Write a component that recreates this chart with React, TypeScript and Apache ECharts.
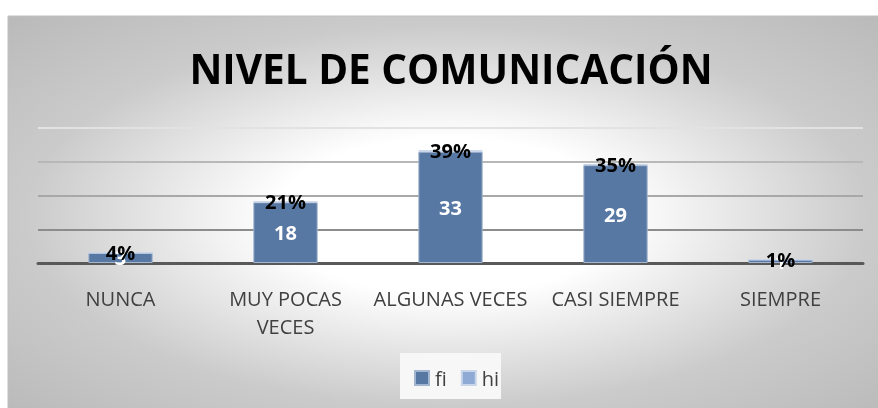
import React, { useEffect, useRef } from "react";
import * as echarts from "echarts";

const TITLE = "NIVEL DE COMUNICACIÓN";
const categories = ["NUNCA", "MUY POCAS VECES", "ALGUNAS VECES", "CASI SIEMPRE", "SIEMPRE"];
const fiValues = [3, 18, 33, 29, 1];
const hiValues = [0.04, 0.21, 0.39, 0.35, 0.01];
const seriesNames = ["fi", "hi"];

const FONT = "'Open Sans', 'DejaVu Sans', sans-serif";

export default function App() {
  const ref = useRef<HTMLDivElement>(null);
  useEffect(() => {
    if (!ref.current) return;
    const chart = echarts.init(ref.current, undefined, { renderer: "svg" });
    chart.setOption({
      animation: false,
      graphic: [
        {
          type: "rect",
          z: -10,
          silent: true,
          shape: { x: 8, y: 16, width: 880, height: 400 },
          style: {
            fill: new echarts.graphic.RadialGradient(0.5, 0.5, 0.7, [
              { offset: 0, color: "#ffffff" },
              { offset: 0.28, color: "#ffffff" },
              { offset: 0.68, color: "#cbcbcb" },
              { offset: 1, color: "#bababa" },
            ]),
            stroke: "#bfbfbf",
            lineWidth: 1,
          },
        },
        {
          type: "rect",
          z: -5,
          silent: true,
          shape: { x: 400, y: 353, width: 101, height: 46 },
          style: { fill: "#f7f7f7" },
        },
        {
          type: "text",
          x: 451,
          y: 68,
          style: {
            text: TITLE,
            fontFamily: FONT,
            fontSize: 40.5,
            fontWeight: "bold",
            fill: "#000000",
            textAlign: "center",
            textVerticalAlign: "middle",
          },
        },
      ],
      grid: { left: 38, right: 15, top: 128, bottom: 145, containLabel: false },
      legend: {
        left: 400,
        top: 353,
        padding: [15, 6, 15, 14],
        itemWidth: 14,
        itemHeight: 14,
        itemGap: 14,
        icon: "rect",
        data: seriesNames,
        textStyle: { fontFamily: FONT, fontSize: 20, color: "#404040", padding: [0, 0, 0, 1] },
      },
      xAxis: {
        type: "category",
        data: categories,
        axisLine: { lineStyle: { color: "#595959", width: 3 } },
        axisTick: { show: false },
        axisLabel: {
          interval: 0,
          margin: 21,
          fontFamily: FONT,
          fontSize: 20,
          color: "#404040",
          lineHeight: 28,
          formatter: (v: string) => (v === "MUY POCAS VECES" ? "MUY POCAS\nVECES" : v),
        },
      },
      yAxis: {
        type: "value",
        min: 0,
        max: 40,
        interval: 10,
        axisLabel: { show: false },
        axisLine: { show: false },
        axisTick: { show: false },
        splitLine: {
          lineStyle: { color: ["#888888", "#8c8c8c", "#a8a8a8", "#b8b8b8", "#e2e2e2"], width: 2 },
        },
      },
      series: [
        {
          name: seriesNames[0],
          type: "bar",
          stack: "total",
          barWidth: "39%",
          data: fiValues,
          itemStyle: { color: "#5878a4", borderColor: "#a3b5cf", borderWidth: 1 },
          label: {
            show: true,
            position: "inside",
            fontFamily: FONT,
            fontSize: 20,
            fontWeight: "bold",
            color: "#ffffff",
          },
        },
        {
          name: seriesNames[1],
          type: "bar",
          stack: "total",
          barWidth: "39%",
          data: hiValues,
          itemStyle: { color: "#8eaad5", borderColor: "#c9d6ea", borderWidth: 1 },
          label: {
            show: true,
            position: "inside",
            fontFamily: FONT,
            fontSize: 20,
            fontWeight: "bold",
            color: "#000000",
            formatter: (p: any) => Math.round(p.value * 100) + "%",
          },
        },
      ],
    });
    return () => chart.dispose();
  }, []);
  return (
    <div
      ref={ref}
      style={{ position: "fixed", left: 0, top: 0, width: 878, height: 408 }}
    />
  );
}
